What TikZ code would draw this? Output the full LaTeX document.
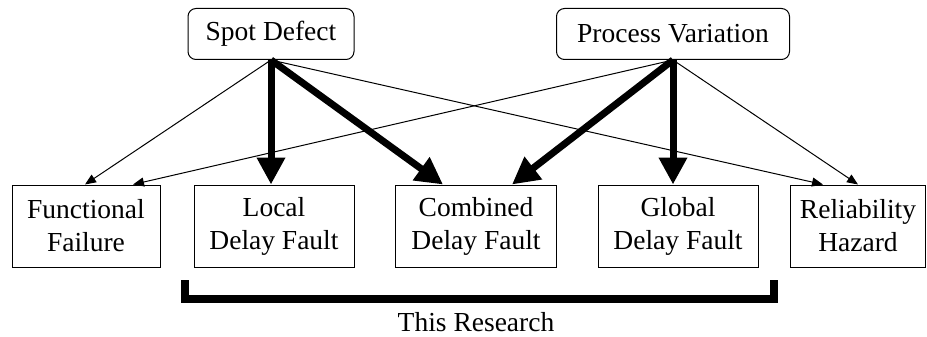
\documentclass[tikz,border=0pt]{standalone}
\usepackage{fontspec}
\setmainfont{Liberation Serif}
\usetikzlibrary{arrows.meta}
\begin{document}
\begin{tikzpicture}[
  x=1pt,y=-1pt,
  every node/.style={draw,line width=1pt,font=\fontsize{27.5}{33}\selectfont,inner sep=0pt,align=center},
  cause/.style={rounded corners=8pt,minimum height=51pt},
  fault/.style={minimum height=82pt},
  weak/.style={line width=1pt,-{Triangle[length=11pt,width=9pt]}},
  strong/.style={line width=7pt,-{Triangle[length=27pt,width=27pt]}}
]
  \useasboundingbox (0,0) rectangle (927,337);
  \node[cause,minimum width=166pt] (sd) at (271,34)  {Spot Defect};
  \node[cause,minimum width=233pt] (pv) at (673,34)  {Process Variation};
  \node[fault,minimum width=148pt] (ff)  at (86,226)  {Functional\\Failure};
  \node[fault,minimum width=160pt] (ldf) at (274,226) {Local\\Delay Fault};
  \node[fault,minimum width=161pt] (cdf) at (476,226) {Combined\\Delay Fault};
  \node[fault,minimum width=160pt] (gdf) at (678,226) {Global\\Delay Fault};
  \node[fault,minimum width=135pt] (rh)  at (858,226) {Reliability\\Hazard};

  \draw[weak] (sd.south)--([xshift=-1pt]ff.north);
  \draw[weak] (sd.south)--([xshift=-35pt]rh.north);
  \draw[weak] (pv.south)--([xshift=47pt]ff.north);
  \draw[weak] (pv.south)--(rh.north);
  \draw[strong] (sd.south)--(sd.south |- ldf.north);
  \draw[strong] (sd.south)--([xshift=-33pt]cdf.north);
  \draw[strong] (pv.south)--([xshift=36pt]cdf.north);
  \draw[strong] (pv.south)--(pv.south |- gdf.north);

  \draw[line width=8pt] (185,280)--(185,299)--(774,299)--(774,280);
  \node[draw=none] (res) at (476,322) {This Research};
\end{tikzpicture}
\end{document}
